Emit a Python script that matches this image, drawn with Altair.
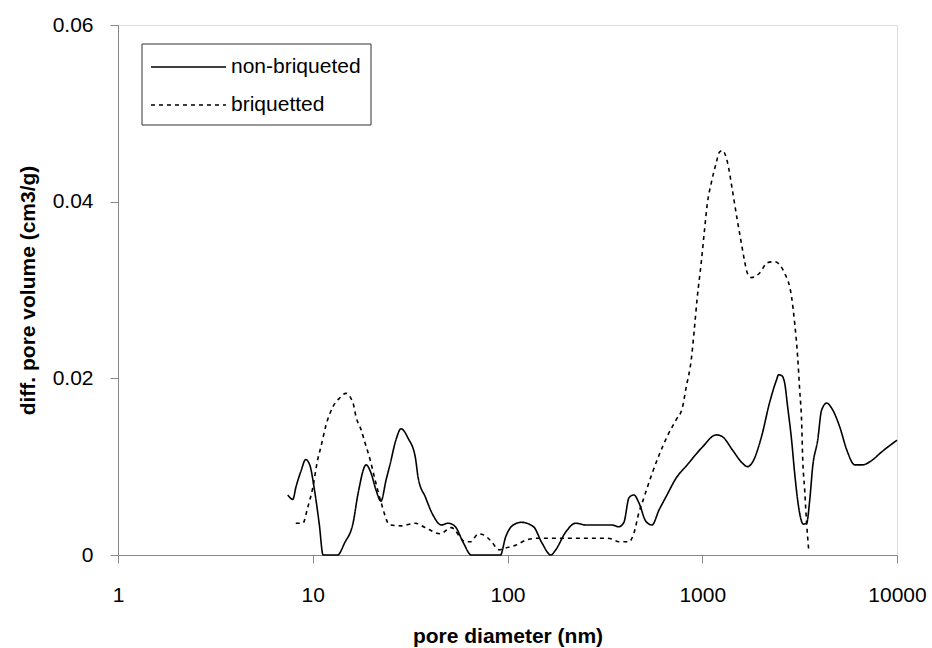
import altair as alt
import pandas as pd

# Pore size distribution, non-briqueted sample (diameter in nm, diff. volume in cm3/g)
non_briq_d = [7.44, 7.9, 8.2, 8.7, 9.2, 9.65, 10.2, 10.8, 11.3, 13.4, 14.6, 16.1, 17.1,
              18.8, 19.9, 21.1, 22.4, 23.8, 24.9, 26.8, 28.4, 30.9, 33.6, 34.8, 37.8,
              41.5, 45.7, 49.7, 52.7, 54, 59.3, 65.2, 92, 97.7, 107, 118, 136, 150, 167,
              177, 199, 224, 252, 344, 373, 396, 421, 446, 473, 514, 552, 600, 652, 734,
              837, 1000, 1180, 1268, 1428, 1608, 1706, 1811, 2015, 2214, 2405, 2466,
              2560, 2648, 2744, 2876, 2981, 3090, 3200, 3300, 3435, 3563, 3690, 3915,
              4100, 4357, 4625, 5082, 5520, 6074, 6607, 7522, 8170, 10000]
non_briq_v = [0.0068, 0.0063, 0.0077, 0.0095, 0.0108, 0.0102, 0.0074, 0.0035, 0, 0,
              0.0014, 0.0036, 0.0070, 0.0102, 0.0093, 0.0074, 0.0061, 0.0085, 0.0102,
              0.0131, 0.0143, 0.0132, 0.0111, 0.0087, 0.0066, 0.0045, 0.0034, 0.0036,
              0.0034, 0.0032, 0.0014, 0, 0, 0.0020, 0.0034, 0.0037, 0.0032, 0.0014, 0,
              0.0006, 0.0026, 0.0036, 0.0034, 0.0034, 0.0032, 0.0037, 0.0065, 0.0068,
              0.0059, 0.0038, 0.0034, 0.0051, 0.0066, 0.0087, 0.0102, 0.0122, 0.0136,
              0.0134, 0.0119, 0.0104, 0.0100, 0.0105, 0.0134, 0.0172, 0.0198, 0.0204,
              0.0203, 0.0195, 0.0168, 0.0130, 0.0093, 0.0062, 0.0042, 0.0035, 0.0036,
              0.0062, 0.0100, 0.0130, 0.0164, 0.0172, 0.0166, 0.0145, 0.0119, 0.0102,
              0.0102, 0.0108, 0.0115, 0.0130]

# Pore size distribution, briquetted sample
briq_d = [8.18, 8.9, 9.4, 10, 10.6, 11.0, 11.7, 12.7, 13.8, 14.8, 16.1, 16.7, 17.7,
          18.5, 19.7, 20.9, 22.4, 24.9, 28.4, 33.6, 37.8, 45.2, 51.4, 60.8, 64.5, 71,
          75, 83, 90, 98, 110, 125, 145, 320, 344, 373, 421, 446, 473, 502, 546, 600,
          660, 734, 789, 827, 878, 910, 943, 988, 1024, 1062, 1112, 1180, 1224, 1268,
          1346, 1428, 1514, 1588, 1645, 1706, 1790, 1967, 2162, 2350, 2648, 2876,
          2981, 3090, 3164, 3240, 3277, 3356, 3435, 3519]
briq_v = [0.0036, 0.0036, 0.0053, 0.0076, 0.0108, 0.0122, 0.0147, 0.0168, 0.0178,
          0.0183, 0.0172, 0.0156, 0.0142, 0.0128, 0.0108, 0.0085, 0.0060, 0.0034,
          0.0033, 0.0036, 0.0031, 0.0024, 0.0031, 0.0015, 0.0015, 0.0024, 0.0023,
          0.0015, 0.0006, 0.0008, 0.0011, 0.0017, 0.0019, 0.0019, 0.0018, 0.0015,
          0.0015, 0.0025, 0.0048, 0.0065, 0.0089, 0.0113, 0.0134, 0.0153, 0.0166,
          0.0190, 0.0221, 0.0255, 0.0292, 0.0331, 0.0365, 0.0398, 0.0421, 0.0444,
          0.0456, 0.0458, 0.0445, 0.0413, 0.0379, 0.0353, 0.0334, 0.0319, 0.0314,
          0.0319, 0.0331, 0.0332, 0.0319, 0.0292, 0.0263, 0.0224, 0.0187, 0.0149,
          0.0111, 0.0074, 0.0036, 0.0006]

series = ["non-briqueted", "briquetted"]
x_ticks = [1, 10, 100, 1000, 10000]
y_ticks = [0, 0.02, 0.04, 0.06]

df = pd.concat([
    pd.DataFrame({"d": non_briq_d, "v": non_briq_v, "sample": series[0], "o": range(len(non_briq_d))}),
    pd.DataFrame({"d": briq_d, "v": briq_v, "sample": series[1], "o": range(len(briq_d))}),
])

FONT = "Liberation Sans"
FS = 21
DASH = [4, 4]

curves = alt.Chart(df).mark_line(color="black", strokeWidth=1.6, interpolate="monotone").encode(
    x=alt.X("d:Q", title="pore diameter (nm)",
            scale=alt.Scale(type="log", domain=[1, 10000]),
            axis=alt.Axis(values=x_ticks, format="d", tickSize=8, labelPadding=21,
                          titlePadding=20, labelFontSize=FS, titleFontSize=FS,
                          labelFlush=False, grid=False)),
    y=alt.Y("v:Q", title="diff. pore volume (cm3/g)",
            scale=alt.Scale(domain=[0, 0.06], nice=False),
            axis=alt.Axis(values=y_ticks, tickSize=8, labelPadding=17,
                          labelExpr="datum.value == 0 ? '0' : format(datum.value, '.2f')",
                          titlePadding=14, labelFontSize=FS, titleFontSize=FS, grid=False)),
    strokeDash=alt.StrokeDash("sample:N",
                              scale=alt.Scale(domain=series, range=[[1, 0], DASH]),
                              legend=None),
    detail="sample:N",
    order="o:Q",
)

# Boxed legend in the upper-left corner of the plot
legend_box = alt.Chart(df.head(1)).mark_rect(fill="white", stroke="#333", strokeWidth=1).encode(
    x=alt.value(24), x2=alt.value(253), y=alt.value(19), y2=alt.value(100))
legend_solid = alt.Chart(df.head(1)).mark_rule(color="black", strokeWidth=1.6).encode(
    x=alt.value(33), x2=alt.value(108), y=alt.value(42))
legend_dash = alt.Chart(df.head(1)).mark_rule(color="black", strokeWidth=1.6, strokeDash=DASH).encode(
    x=alt.value(33), x2=alt.value(108), y=alt.value(80))
legend_t1 = alt.Chart(df.head(1)).mark_text(text=series[0], align="left", baseline="middle",
                                            font=FONT, fontSize=FS, color="black").encode(
    x=alt.value(113), y=alt.value(42))
legend_t2 = alt.Chart(df.head(1)).mark_text(text=series[1], align="left", baseline="middle",
                                            font=FONT, fontSize=FS, color="black").encode(
    x=alt.value(113), y=alt.value(80))

chart = alt.layer(curves, legend_box, legend_solid, legend_dash, legend_t1, legend_t2).properties(
    width=779, height=530,
    padding={"left": 118, "top": 25, "right": 35, "bottom": 93},
    autosize=alt.AutoSizeParams(type="none"),
).configure_view(
    stroke="#999999", strokeWidth=1.5,
).configure_axis(
    grid=False, domainColor="#333", domainWidth=1.5, tickColor="#555",
    labelFont=FONT, titleFont=FONT, labelColor="black", titleColor="black",
    titleFontWeight="bold",
).configure(background="white")

chart.save("out.html", embed_options={"renderer": "svg", "actions": False})
